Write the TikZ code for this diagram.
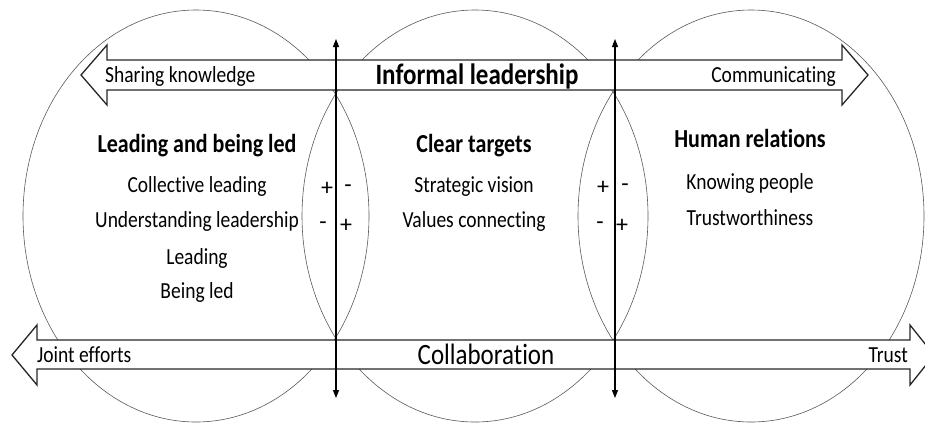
\documentclass[tikz,border=0pt]{standalone}
\usepackage{fontspec}
\usepackage{graphicx}
\setmainfont[Ligatures=CommonOff]{Carlito}
\usetikzlibrary{arrows.meta,shapes.geometric}
\newcommand{\vst}[1]{\scalebox{1}[1.18]{#1}}
\tikzset{
  circ/.style={draw=black!65, line width=0.6pt, ellipse, minimum width=346pt, minimum height=412pt, inner sep=0pt, outer sep=0pt},
  bigarrow/.style={draw=black!85, line width=1.3pt, fill=white, line join=miter},
  axis/.style={draw=black, line width=1.1pt, {Triangle[length=8pt,width=6pt]}-{Triangle[length=8pt,width=6pt]}},
  txt/.style={inner sep=0pt, anchor=base, font=\fontsize{19.5}{22}\selectfont},
  head/.style={inner sep=0pt, anchor=base, font=\bfseries\fontsize{22}{26}\selectfont},
  lbl/.style={inner sep=0pt, font=\fontsize{19.5}{22}\selectfont},
  sign/.style={inner sep=0pt, font=\fontsize{24}{26}\selectfont}
}
\begin{document}
\begin{tikzpicture}[x=1pt,y=-1pt]
\useasboundingbox (0,0) rectangle (925,424);
\clip (0,0) rectangle (925,424);
% circles
\node[circ] (c1) at (196,216) {};
\node[circ] (c2) at (475,216) {};
\node[circ] (c3) at (751,216) {};
% top arrow
\draw[bigarrow] (81,75) -- (107,45) -- (107,60) -- (842,60) -- (842,45) -- (868,75)
  -- (842,105) -- (842,90) -- (107,90) -- (107,105) -- cycle;
% bottom arrow
\draw[bigarrow] (12,355) -- (37,325) -- (37,340) -- (910,340) -- (910,325) -- (934,355)
  -- (910,385) -- (910,369) -- (37,369) -- (37,385) -- cycle;
% vertical axes
\coordinate (a1t) at (336,39);
\coordinate (a1b) at (336,398);
\coordinate (a2t) at (615,39);
\coordinate (a2b) at (615,398);
\draw[axis] (a1t) -- (a1b);
\draw[axis] (a2t) -- (a2b);
% arrow labels
\node[lbl, anchor=base west] (sk) at (105,82) {\vst{Sharing knowledge}};
\node[inner sep=0pt, anchor=base, font=\bfseries\fontsize{25}{28}\selectfont] (il) at (477,84) {\vst{Informal leadership}};
\node[lbl, anchor=base east] (cm) at (836,82) {\vst{Communicating}};
\node[lbl, anchor=base west] (je) at (37,362) {\vst{Joint efforts}};
\node[inner sep=0pt, anchor=base, font=\fontsize{25}{28}\selectfont] (co) at (486,364) {\vst{Collaboration}};
\node[lbl, anchor=base east] (tr) at (908,362) {\vst{Trust}};
% left circle
\node[head] (h1) at (197,152) {\vst{Leading and being led}};
\node[txt] (l1) at (197,192) {\vst{Collective leading}};
\node[txt] (l2) at (197,227) {\vst{Understanding leadership}};
\node[txt] (l3) at (197,264) {\vst{Leading}};
\node[txt] (l4) at (197,298) {\vst{Being led}};
% middle circle
\node[head] (h2) at (474,152) {\vst{Clear targets}};
\node[txt] (m1) at (474,192) {\vst{Strategic vision}};
\node[txt] (m2) at (474,227) {\vst{Values connecting}};
% right circle
\node[head] (h3) at (750,147) {\vst{Human relations}};
\node[txt] (r1) at (750,189) {\vst{Knowing people}};
\node[txt] (r2) at (750,225) {\vst{Trustworthiness}};
% signs
\node[sign] (s1) at (327,189) {+};
\node[sign] (s2) at (348,189) {-};
\node[sign] (s3) at (323,226) {-};
\node[sign] (s4) at (346,226) {+};
\node[sign] (s5) at (603,188) {+};
\node[sign] (s6) at (625,188) {-};
\node[sign] (s7) at (600,226) {-};
\node[sign] (s8) at (622,226) {+};
\end{tikzpicture}
\end{document}
